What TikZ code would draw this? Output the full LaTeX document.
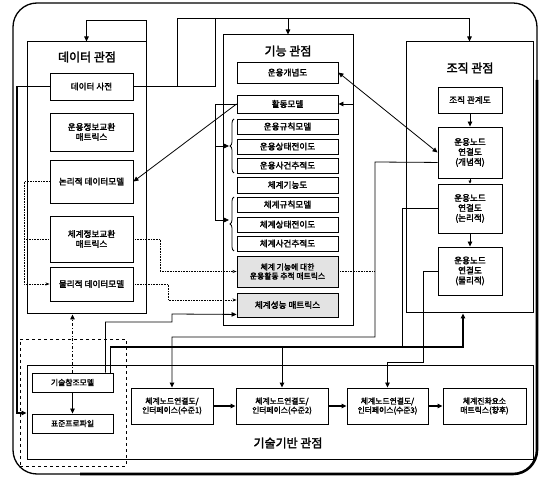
\documentclass[tikz,border=0pt]{standalone}
\usepackage{fontspec}
\setmainfont{Noto Sans CJK KR}[AutoFakeBold=2.2]
\usetikzlibrary{arrows.meta,decorations.pathreplacing,calc}
\newcommand\mkbox[7][]{\node[box,#1,minimum width={(#5-#3)*1pt},minimum height={(#6-#4)*1pt}] (#2) at ({(#3+#5)/2},{(#4+#6)/2}) {#7};}
\begin{document}
\begin{tikzpicture}[x=1pt,y=-1pt,
  box/.style={draw,line width=0.9pt,fill=white,inner sep=1pt,align=center,font=\fontsize{8.6}{10}\selectfont\bfseries},
  view/.style={fill=none,line width=1pt},
  sm/.style={font=\fontsize{7.8}{9}\selectfont\bfseries},
  ttl/.style={font=\fontsize{12}{13}\selectfont\bfseries},
  arr/.style={-{Triangle[length=5pt,width=4.5pt]},line width=0.8pt},
  ln/.style={line width=0.8pt},
  dots/.style={densely dotted,line width=0.6pt}
]
\useasboundingbox (0,0) rectangle (539,486);
% outer frame
\draw[line width=1.3pt, rounded corners=24pt] (13,3) rectangle (537,474);
\draw[line width=2.6pt, rounded corners=24pt] (537,80) -- (537,474) -- (80,474);

% views
\mkbox[view]{dataV}{27}{42}{146}{314}{}
\mkbox[view]{funcV}{223}{35}{353}{326}{}
\mkbox[view]{orgV}{406}{42}{533}{313}{}
\mkbox[view]{techV}{27}{366}{533}{460}{}
\mkbox[view,dashed,line width=0.5pt]{trmG}{20}{339}{126}{466}{}

\node[ttl] (dataT) at (87,57) {데이터 관점};
\node[ttl] (funcT) at (288,51) {기능 관점};
\node[ttl] (orgT) at (470,68) {조직 관점};
\node[ttl] (techT) at (288,443) {기술기반 관점};

% data view
\mkbox{dd}{50}{73}{133}{100}{데이터 사전}
\mkbox{oiem}{50}{113}{133}{151}{운용정보교환\\매트릭스}
\mkbox{ldm}{50}{160}{133}{203}{논리적 데이터모델}
\mkbox{siem}{50}{216}{133}{262}{체계정보교환\\매트릭스}
\mkbox{pdm}{50}{267}{133}{301}{물리적 데이터모델}

% function view
\mkbox{ocd}{237}{62}{338}{83}{운용개념도}
\mkbox{am}{237}{95}{338}{113}{활동모델}
\mkbox{orm}{237}{119}{338}{134}{운용규칙모델}
\mkbox{ostd}{237}{139}{338}{154}{운용상태전이도}
\mkbox{oetd}{237}{158}{338}{173}{운용사건추적도}
\mkbox{sfd}{237}{177}{338}{193}{체계기능도}
\mkbox{srm}{237}{197}{338}{212}{체계규칙모델}
\mkbox{sstd}{237}{217}{338}{232}{체계상태전이도}
\mkbox{setd}{237}{236}{338}{251}{체계사건추적도}
\mkbox[sm,fill=gray!22]{sfm}{237}{256}{338}{287}{체계 기능에 대한\\운용활동 추적 매트릭스}
\mkbox[fill=gray!22]{spm}{237}{293}{338}{317}{체계성능 매트릭스}

% organisation view
\mkbox{ocrd}{438}{87}{502}{113}{조직 관계도}
\mkbox{on1}{438}{127}{502}{178}{운용노드\\연결도\\(개념적)}
\mkbox{on2}{438}{184}{502}{233}{운용노드\\연결도\\(논리적)}
\mkbox{on3}{438}{247}{502}{295}{운용노드\\연결도\\(물리적)}

% technology view
\mkbox[sm]{trm}{32}{373}{113}{392}{기술참조모델}
\mkbox[sm]{sp}{32}{414}{113}{433}{표준프로파일}
\mkbox[sm]{l1}{131}{388}{213}{424}{체계노드연결도/\\인터페이스(수준1)}
\mkbox[sm]{l2}{236}{388}{328}{424}{체계노드연결도/\\인터페이스(수준2)}
\mkbox[sm]{l3}{347}{388}{428}{424}{체계노드연결도/\\인터페이스(수준3)}
\mkbox[sm]{evo}{443}{388}{526}{424}{체계진화요소\\매트릭스(향후)}

% top bus
\draw[arr] (dd.east) -- (177,86.5) -- (177,18) -| (orgV.north);
\draw[arr] (288,18) -- (funcV.north);
\draw[ln] (215,18) -- (215,86.5) -- (177,86.5);
\draw[arr] (dataV.north east) -- ++(0,-21) -| (dataV.north);
% left bus
\draw[arr,line width=1.3pt] (dd.west) -- (17,86.5) |- (techV.west);

% activity model links
\draw[arr] (am.west) -- (ldm.east);
\draw[ln] (am.west) -- (215,104) -- (215,220);
\draw[ln,decorate,decoration={brace,amplitude=4pt}] (234,173) -- (234,119);
\draw[ln,decorate,decoration={brace,amplitude=4pt}] (234,251) -- (234,197);
\draw[arr] (215,146) -- (229,146);
\draw[arr] (215,220) -- (229,220);
\draw[{Triangle[length=5pt,width=4.5pt]}-{Triangle[length=5pt,width=4.5pt]},line width=0.8pt] (ocd.east) -- (on1.west);
\draw[arr] (funcV.east |- am.east) -- (am.east);

% organisation chain
\draw[arr] (ocrd) -- (on1);
\draw[-{Triangle[length=3pt,width=3pt]},line width=0.7pt] (on1) -- (on2);
\draw[arr] (on2) -- (on3);

% links to technology view
\draw[arr] ($(on1.south west)+(0,-16)$) -- (375,162) -- (375,337) -| (l1.north);
\draw[dots] (sfm.east) -- (375,271.5);
\draw[arr,line width=1.3pt] ($(trm.north east)+(-3,0)$) |- (463,347) -- ($(orgV.south)+(-6.5,0)$);
\draw[arr,line width=1pt] ($(l2.north)+(0,-41)$) -- (l2.north);
\draw[ln] (402,347) |- (on2.west);
\draw[arr] (on3.west) -| (423,362) -| (l3.north);
\draw[arr] ($(trm.north east)+(-8,0)$) |- (172,322) -- (172,314) -- ($(spm.south west)+(0,-3)$);
\draw[arr,dash dot] (trm.north) -- (trm.north |- dataV.south);
\draw[arr] (trm.south) -- (sp.north);
\draw[arr,line width=1.3pt] (l1) -- (l2);
\draw[arr,line width=1.3pt] (l2) -- (l3);
\draw[arr,line width=1.3pt] (l3) -- (evo);

% dotted data links
\draw[dots,-{Stealth[length=4pt]}] (pdm.east) -- (168,284) |- ($(spm.west)+(0,-5)$);
\draw[dots,-{Stealth[length=4pt]}] (siem.east) -- (160,239) |- (sfm.west);
\draw[dots,-{Stealth[length=4pt]}] (ldm.west) -- (24,181.5) |- (pdm.west);
\draw[dots] (24,239) -- (siem.west);
\end{tikzpicture}
\end{document}
